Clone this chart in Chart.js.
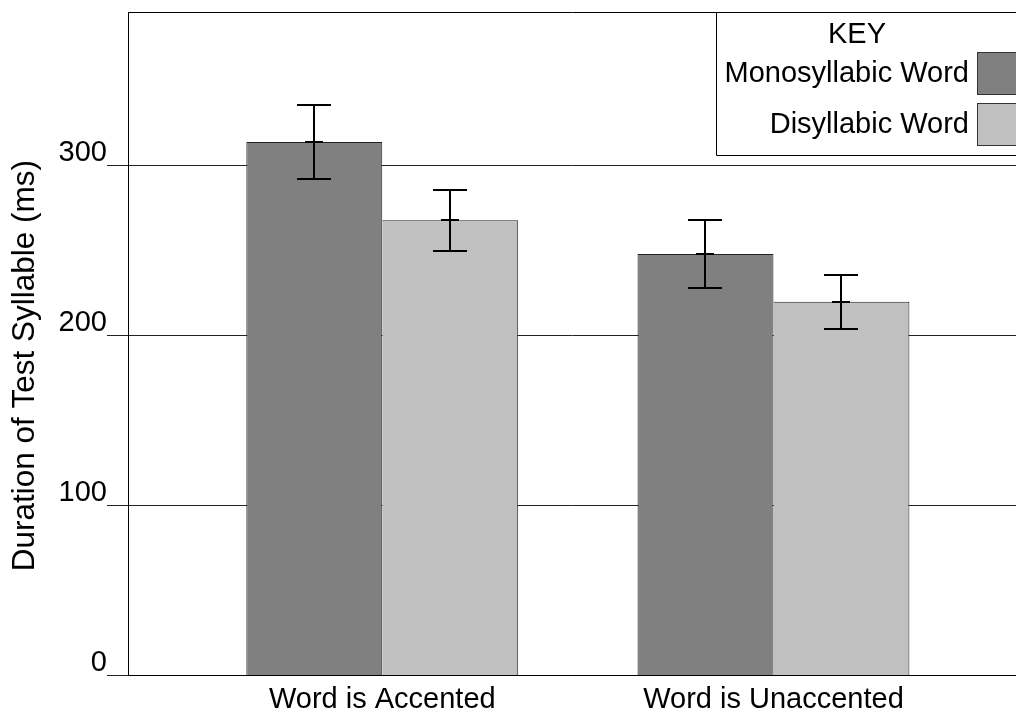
<!DOCTYPE html>
<html>
<head>
<meta charset="utf-8">
<title>Duration of Test Syllable</title>
<script src="https://cdn.jsdelivr.net/npm/chart.js@4.4.0/dist/chart.umd.min.js"></script>
<style>
  html, body { margin: 0; padding: 0; background: #fff; overflow: hidden; }
  canvas { display: block; }
</style>
</head>
<body>
<canvas id="myChart" width="1016" height="712"></canvas>
<script>
// values
let categories = ['Word is Accented', 'Word is Unaccented'];
let seriesNames = ['Monosyllabic Word', 'Disyllabic Word'];
let monoValues = [314, 248];
let monoLow = [292, 228];
let monoHigh = [336, 268];
let diValues = [268, 220];
let diLow = [250, 204];
let diHigh = [286, 236];
let yTicks = [0, 100, 200, 300];
let yMax = 390.5;

let fontFamily = "'Liberation Sans', Arial, Helvetica, sans-serif";

// error bars, drawn from the bar elements and the y scale
const errorBars = {
	id: 'errorBars',
	afterDatasetsDraw(chart){
		let ctx = chart.ctx;
		let yScale = chart.scales.y;
		ctx.save();
		ctx.strokeStyle = '#000';
		ctx.lineWidth = 2;
		chart.data.datasets.forEach((ds, i) => {
			let meta = chart.getDatasetMeta(i);
			meta.data.forEach((bar, j) => {
				let x = Math.round(bar.x);
				let yHi = Math.round(yScale.getPixelForValue(ds.errHigh[j]));
				let yLo = Math.round(yScale.getPixelForValue(ds.errLow[j]));
				let yMid = Math.round(yScale.getPixelForValue(ds.data[j].y));
				ctx.beginPath();
				ctx.moveTo(x, yHi);
				ctx.lineTo(x, yLo);
				ctx.moveTo(x - 17, yHi);
				ctx.lineTo(x + 17, yHi);
				ctx.moveTo(x - 17, yLo);
				ctx.lineTo(x + 17, yLo);
				ctx.moveTo(x - 9, yMid);
				ctx.lineTo(x + 9, yMid);
				ctx.stroke();
			});
		});
		ctx.restore();
	}
};

// the KEY box in the top right corner
const keyBox = {
	id: 'keyBox',
	afterDraw(chart){
		let ctx = chart.ctx;
		let area = chart.chartArea;
		let left = area.right - 300;
		let top = area.top;
		let bottom = top + 143;
		ctx.save();
		ctx.strokeStyle = '#000';
		ctx.lineWidth = 1;
		ctx.beginPath();
		ctx.moveTo(left + 0.5, top);
		ctx.lineTo(left + 0.5, bottom + 0.5);
		ctx.lineTo(area.right + 2, bottom + 0.5);
		ctx.stroke();

		ctx.fillStyle = '#000';
		ctx.font = '29px ' + fontFamily;
		ctx.textBaseline = 'middle';
		ctx.textAlign = 'center';
		ctx.fillText('KEY', left + 141, top + 23);

		let rows = [top + 62, top + 113];
		chart.data.datasets.forEach((ds, i) => {
			ctx.textAlign = 'right';
			ctx.fillStyle = '#000';
			ctx.fillText(ds.label, left + 253, rows[i]);
			ctx.fillStyle = ds.backgroundColor;
			ctx.fillRect(left + 261.5, rows[i] - 21.5, 50, 42);
			ctx.strokeStyle = '#333';
			ctx.strokeRect(left + 261.5, rows[i] - 21.5, 50, 42);
		});
		ctx.restore();
	}
};

let ctx = document.getElementById('myChart').getContext('2d');
let chart = new Chart(ctx, {
	type: 'bar',
	data: {
		datasets: [{
			label: seriesNames[0],
			data: monoValues.map((v, i) => ({x: i + 1, y: v})),
			errLow: monoLow,
			errHigh: monoHigh,
			backgroundColor: '#808080',
			borderColor: '#222',
			borderWidth: 1
		}, {
			label: seriesNames[1],
			data: diValues.map((v, i) => ({x: i + 1, y: v})),
			errLow: diLow,
			errHigh: diHigh,
			backgroundColor: '#c0c0c0',
			borderColor: '#222',
			borderWidth: {top: 1, right: 1, left: 0, bottom: 0}
		}]
	},
	options: {
		responsive: false,
		animation: false,
		categoryPercentage: 0.695,
		barPercentage: 1,
		layout: { padding: { top: 12, left: 0, right: 0, bottom: 0 } },
		plugins: {
			legend: { display: false },
			tooltip: { enabled: false }
		},
		scales: {
			x: {
				type: 'linear',
				position: 'bottom',
				offset: false,
				bounds: 'data',
				min: 0.35,
				max: 2.62,
				grid: { display: false, drawTicks: false, offset: false },
				border: { display: true, color: '#000', width: 1 },
				afterBuildTicks: s => { s.ticks = categories.map((c, i) => ({value: i + 1})); },
				afterFit: s => { s.height = 36.5; },
				ticks: {
					autoSkip: false,
					padding: 7,
					color: '#000',
					font: { family: fontFamily, size: 29 },
					callback: v => categories[v - 1]
				}
			},
			xTop: {
				type: 'linear',
				axis: 'x',
				position: 'top',
				offset: false,
				min: 0.35,
				max: 2.62,
				grid: { display: false, drawTicks: false },
				border: { display: true, color: '#000', width: 1 },
				ticks: { display: false },
				afterFit: s => { s.height = 0; s.paddingTop = 0; s.paddingBottom = 0; }
			},
			y: {
				min: 0,
				max: yMax,
				bounds: 'data',
				z: 1,
				grid: {
					color: '#222',
					lineWidth: 1,
					tickLength: 21,
					tickColor: c => (c.tick && yTicks.includes(c.tick.value)) ? '#222' : 'rgba(0,0,0,0)'
				},
				border: { display: true, color: '#000', width: 1 },
				afterBuildTicks: s => { s.ticks = yTicks.concat([yMax]).map(v => ({value: v})); },
				afterFit: s => { s.width = 128; s.paddingTop = 0; },
				ticks: {
					autoSkip: false,
					padding: 0,
					labelOffset: -13,
					color: '#000',
					font: { family: fontFamily, size: 29 },
					callback: v => yTicks.includes(v) ? String(v) : null
				},
				title: {
					display: true,
					text: 'Duration of Test Syllable (ms)     ',
					color: '#000',
					font: { family: fontFamily, size: 31.5 },
					padding: { top: 6, bottom: 0 }
				}
			}
		}
	},
	plugins: [errorBars, keyBox]
});
</script>
</body>
</html>
